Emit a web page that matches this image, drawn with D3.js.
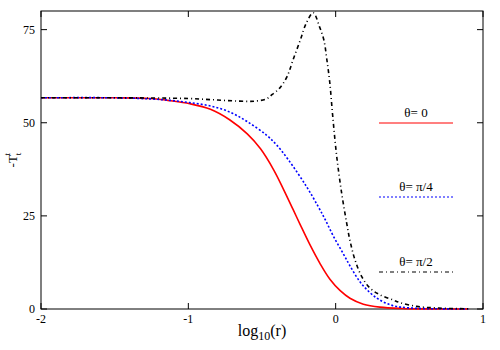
<!DOCTYPE html>
<html>
<head>
<meta charset="utf-8">
<script src="https://cdn.jsdelivr.net/npm/d3@7"></script>
<style>
  body { margin: 0; background: #fff; }
  text { font-family: "Liberation Serif", serif; fill: #000; }
</style>
</head>
<body>
<svg id="chart" width="500" height="350"></svg>
<script>
// ---- data ----
const redX   = [-2, -1.5, -1.26, -1.12, -0.99, -0.85, -0.72, -0.60, -0.51, -0.42, -0.355, -0.29, -0.24, -0.174, -0.106, -0.039, 0.029, 0.097, 0.188, 0.30, 0.45, 0.65, 0.9];
const redY   = [56.7, 56.7, 56.5, 55.9, 55.1, 53.6, 50.8, 47.0, 43.0, 37.3, 32.2, 26.8, 22.6, 17.2, 12.2, 8.0, 5.0, 2.9, 1.3, 0.5, 0.15, 0.03, 0];

const blueX  = [-2, -1.5, -1.26, -1.12, -0.99, -0.85, -0.72, -0.60, -0.47, -0.40, -0.32, -0.20, -0.12, -0.07, -0.016, 0.052, 0.097, 0.165, 0.233, 0.30, 0.39, 0.5, 0.7, 0.9];
const blueY  = [56.7, 56.7, 56.4, 56.0, 55.4, 54.5, 52.9, 50.3, 46.7, 44.0, 40.0, 33.0, 27.6, 23.9, 19.6, 14.8, 11.6, 7.3, 4.4, 2.4, 0.9, 0.3, 0.05, 0];

const blackX = [-2, -1.5, -1.0, -0.8, -0.65, -0.55, -0.47, -0.43, -0.38, -0.33, -0.29, -0.24, -0.20, -0.152, -0.11, -0.08, -0.06, -0.04, -0.02, 0.007, 0.041, 0.075, 0.097, 0.131, 0.177, 0.233, 0.301, 0.391, 0.437, 0.55, 0.7, 0.9];
const blackY = [56.7, 56.7, 56.5, 56.1, 55.8, 55.8, 56.4, 57.6, 59.3, 62.4, 66.8, 72.2, 76.7, 79.5, 75.8, 72.2, 67.0, 60.8, 51.8, 41.0, 31.0, 23.0, 18.4, 13.2, 8.7, 5.6, 3.8, 2.4, 1.7, 0.7, 0.25, 0.05];

const xTicks = [-2, -1, 0, 1];
const yTicks = [0, 25, 50, 75];
const legendLabels = ["θ= 0", "θ= π/4", "θ= π/2"];

// ---- layout ----
const svg = d3.select("#chart");
const mLeft = 41, mRight = 483, mTop = 11, mBottom = 309;
const x = d3.scaleLinear().domain([-2, 1]).range([mLeft, mRight]);
const y = d3.scaleLinear().domain([0, 80]).range([mBottom, mTop]);

const series = [
  {xs: redX, ys: redY, color: "#f00", dash: null},
  {xs: blueX, ys: blueY, color: "#00f", dash: "2,2"},
  {xs: blackX, ys: blackY, color: "#000", dash: "4,3,1,3"}
];

// frame
svg.append("rect").attr("x", mLeft).attr("y", mTop)
  .attr("width", mRight - mLeft).attr("height", mBottom - mTop)
  .attr("fill", "none").attr("stroke", "#000").attr("stroke-width", 1);

// ticks (inside, mirrored)
const tl = 6;
xTicks.forEach(t => {
  svg.append("line").attr("x1", x(t)).attr("x2", x(t)).attr("y1", mBottom).attr("y2", mBottom - tl).attr("stroke", "#000");
  svg.append("line").attr("x1", x(t)).attr("x2", x(t)).attr("y1", mTop).attr("y2", mTop + tl).attr("stroke", "#000");
  svg.append("text").attr("x", x(t)).attr("y", mBottom + 14).attr("text-anchor", "middle")
    .style("font-size", "12px").text(t);
});
yTicks.forEach(t => {
  svg.append("line").attr("x1", mLeft).attr("x2", mLeft + tl).attr("y1", y(t)).attr("y2", y(t)).attr("stroke", "#000");
  svg.append("line").attr("x1", mRight).attr("x2", mRight - tl).attr("y1", y(t)).attr("y2", y(t)).attr("stroke", "#000");
  svg.append("text").attr("x", mLeft - 6).attr("y", y(t) + 4).attr("text-anchor", "end")
    .style("font-size", "12px").text(t);
});

// axis labels
const xl = svg.append("text").attr("x", 262).attr("y", 336).attr("text-anchor", "middle").style("font-size", "16px");
xl.append("tspan").text("log");
xl.append("tspan").attr("dy", 4).style("font-size", "12px").text("10");
xl.append("tspan").attr("dy", -4).text("(r)");

const yl = svg.append("text").attr("transform", "translate(17,160) rotate(-90)").attr("text-anchor", "middle").style("font-size", "13px");
yl.append("tspan").text("-T");
yl.append("tspan").attr("dy", 4).style("font-size", "9px").text("t");
yl.append("tspan").attr("dy", -11).attr("dx", -3).style("font-size", "9px").text("t");

// curves
const line = d3.line().x(d => x(d[0])).y(d => y(d[1])).curve(d3.curveCatmullRom.alpha(0.5));
const g = svg.append("g");
series.forEach(s => {
  g.append("path")
    .attr("d", line(s.xs.map((v, i) => [v, s.ys[i]])))
    .attr("fill", "none").attr("stroke", s.color).attr("stroke-width", 1.6)
    .attr("stroke-dasharray", s.dash);
});

// legend
const legY = [123, 197, 272];
series.forEach((s, i) => {
  svg.append("line").attr("x1", 379).attr("x2", 453).attr("y1", legY[i]).attr("y2", legY[i])
    .attr("stroke", s.color).attr("stroke-width", 1.2).attr("stroke-dasharray", s.dash);
  svg.append("text").attr("x", 416).attr("y", legY[i] - 6).attr("text-anchor", "middle")
    .style("font-size", "13px").text(legendLabels[i]);
});
</script>
</body>
</html>
